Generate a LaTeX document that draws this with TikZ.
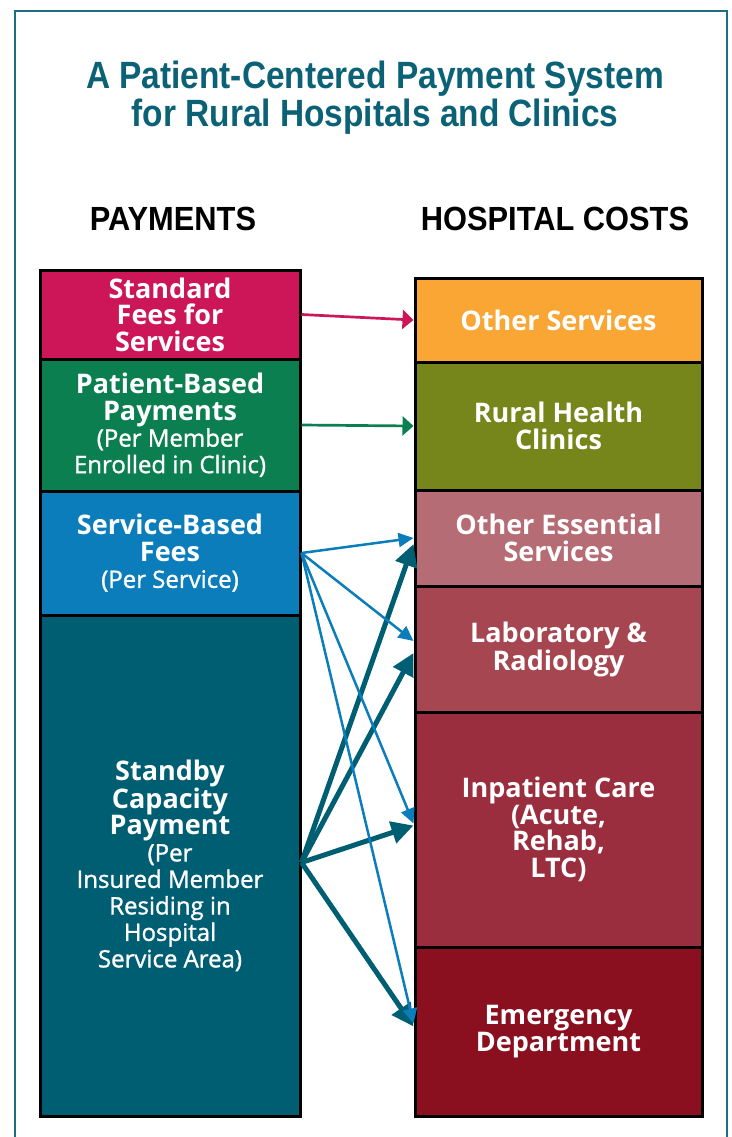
\documentclass[tikz,border=0pt]{standalone}
\usepackage{fontspec}
\setmainfont{Open Sans}
\newfontfamily\headfont[FakeStretch=0.92]{Liberation Sans}
\newfontfamily\titlefont[FakeStretch=0.88]{Liberation Sans}
\newfontfamily\subfont[FakeBold=1.2]{Open Sans}
\usetikzlibrary{arrows.meta}
\definecolor{titleteal}{HTML}{0B6175}
\definecolor{frameteal}{HTML}{1C6F82}
\definecolor{feepink}{HTML}{CC1657}
\definecolor{patgreen}{HTML}{0B7F4F}
\definecolor{servblue}{HTML}{0A7DBA}
\definecolor{standteal}{HTML}{005E73}
\definecolor{othorange}{HTML}{F9A634}
\definecolor{rhcolive}{HTML}{76861B}
\definecolor{essrose}{HTML}{B56C74}
\definecolor{labred}{HTML}{A54651}
\definecolor{inpatred}{HTML}{9A2E3E}
\definecolor{erred}{HTML}{8A1020}
\newcommand\subtxt{\subfont\mdseries\fontsize{24}{26.5}\selectfont}

\begin{document}
\begin{tikzpicture}[x=1pt,y=-1pt,
	box/.style={draw=black, line width=3pt, inner sep=0pt, text=white, align=center,
		font=\bfseries\fontsize{27}{26.5}\selectfont},
	paybox/.style={box, minimum width=260pt},
	costbox/.style={box, minimum width=287pt},
	head/.style={font=\headfont\bfseries\fontsize{33.5}{35}\selectfont},
	flatarrow/.style={line width=2.7pt, -{Triangle[length=11pt,width=19pt]}},
	feearrow/.style={line width=2.5pt, -{Triangle[length=15pt,width=14pt]}},
	capacityarrow/.style={line width=5pt, -{Triangle[length=22pt,width=22pt]}}]
		%%%%% START %%%%%
		\useasboundingbox (0,0) rectangle (731,1137);
		\draw[frameteal, line width=2.5pt] (15,1137) -- (15,11) -- (727,11) -- (727,1137);
		
		\node[font=\titlefont\bfseries\fontsize{38}{38}\selectfont, text=titleteal, align=center] (title) at (375,98)
			{A Patient-Centered Payment System\\for Rural Hospitals and Clinics};
		\node[head] (payhead) at (173,219) {PAYMENTS};
		\node[head] (costhead) at (555,219) {HOSPITAL COSTS};
		
		% payments
		\node[paybox, fill=feepink, minimum height=89pt] (fees) at (170,314.5) {Standard\\Fees for\\Services};
		\node[paybox, fill=patgreen, minimum height=132pt] (patient) at (170,425)
			{Patient-Based\\Payments\\\subtxt (Per Member\\\subtxt Enrolled in Clinic)};
		\node[paybox, fill=servblue, minimum height=124pt] (service) at (170,553)
			{Service-Based\\Fees\\\subtxt (Per Service)};
		\node[paybox, fill=standteal, minimum height=501pt] (standby) at (170,865.5)
			{Standby\\Capacity\\Payment\\\subtxt (Per\\\subtxt Insured Member\\\subtxt Residing in\\\subtxt Hospital\\\subtxt Service Area)};
		
		% hospital costs
		\node[costbox, fill=othorange, minimum height=84pt] (other) at (558.5,320) {Other Services};
		\node[costbox, fill=rhcolive, minimum height=128pt] (rhc) at (558.5,426) {Rural Health\\Clinics};
		\node[costbox, fill=essrose, minimum height=96pt] (ess) at (558.5,538) {Other Essential\\Services};
		\node[costbox, fill=labred, minimum height=126pt] (lab) at (558.5,649) {Laboratory \&\\Radiology};
		\node[costbox, fill=inpatred, minimum height=235pt] (inpat) at (558.5,829.5)
			{Inpatient Care\\(Acute,\\Rehab,\\LTC)};
		\node[costbox, fill=erred, minimum height=169pt] (er) at (558.5,1031.5) {Emergency\\Department};
		
		% arrows
		\draw[flatarrow, feepink] (fees.east) -- (other.west);
		\draw[flatarrow, patgreen] (patient.east) -- (rhc.west);
		
		\draw[capacityarrow, standteal] ([yshift=3pt]standby.east) -- ([yshift=-6pt]ess.west);
		\draw[capacityarrow, standteal] ([yshift=3pt]standby.east) -- ([yshift=-4pt]lab.west);
		\draw[capacityarrow, standteal] ([yshift=3pt]standby.east) -- ([yshift=4pt]inpat.west);
		\draw[capacityarrow, standteal] ([yshift=3pt]standby.east) -- ([yshift=5pt]er.west);
		
		\draw[feearrow, servblue] (service.east) -- (ess.west);
		\draw[feearrow, servblue] (service.east) -- ([yshift=8pt]lab.west);
		\draw[feearrow, servblue] (service.east) -- ([yshift=6pt]inpat.west);
		\draw[feearrow, servblue] (service.east) -- ([yshift=8pt]er.west);
		%%%%% END %%%%%
\end{tikzpicture}
\end{document}
